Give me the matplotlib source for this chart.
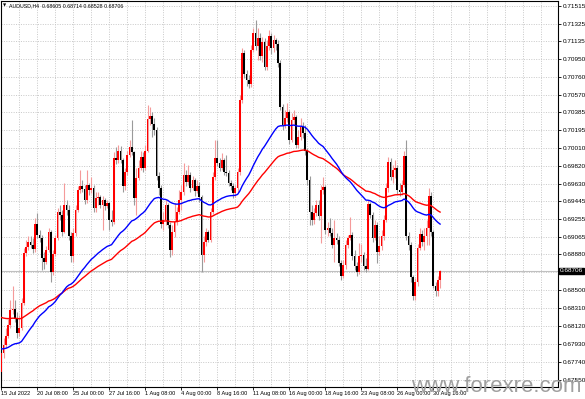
import numpy as np
import pandas as pd
import matplotlib
matplotlib.use('Agg')
import matplotlib.pyplot as plt

# AUDUSD H4, 15 Jul 2022 16:00 ... 31 Aug 2022 04:00
opens = [
    0.6763, 0.6784, 0.6792, 0.6802, 0.6813, 0.6829, 0.6830, 0.6820, 0.6805, 0.6810,
    0.6837, 0.6889, 0.6896, 0.6901, 0.6898, 0.6894, 0.6920, 0.6908, 0.6905, 0.6884,
    0.6880, 0.6893, 0.6912, 0.6869, 0.6888, 0.6905, 0.6933, 0.6930, 0.6912, 0.6940,
    0.6935, 0.6907, 0.6886, 0.6911, 0.6935, 0.6956, 0.6960, 0.6957, 0.6946, 0.6961,
    0.6956, 0.6958, 0.6937, 0.6948, 0.6949, 0.6940, 0.6946, 0.6939, 0.6942, 0.6924,
    0.6922, 0.6990, 0.6988, 0.6998, 0.6988, 0.6960, 0.6975, 0.6993, 0.7002, 0.6996,
    0.6948, 0.6969, 0.6980, 0.6991, 0.6979, 0.6998, 0.7031, 0.7035, 0.7026, 0.7020,
    0.6971, 0.6958, 0.6920, 0.6924, 0.6940, 0.6919, 0.6893, 0.6912, 0.6922, 0.6933,
    0.6946, 0.6954, 0.6972, 0.6965, 0.6972, 0.6958, 0.6967, 0.6955, 0.6960, 0.6949,
    0.6887, 0.6901, 0.6912, 0.6903, 0.6933, 0.6970, 0.6990, 0.6985, 0.6979, 0.6988,
    0.6975, 0.6974, 0.6964, 0.6960, 0.6953, 0.6958, 0.6975, 0.7051, 0.7101, 0.7079,
    0.7073, 0.7068, 0.7104, 0.7122, 0.7109, 0.7117, 0.7098, 0.7113, 0.7087, 0.7109,
    0.7119, 0.7107, 0.7115, 0.7111, 0.7091, 0.7044, 0.7025, 0.7032, 0.7039, 0.7009,
    0.7030, 0.7034, 0.7004, 0.7012, 0.7023, 0.7017, 0.6998, 0.6967, 0.6933, 0.6924,
    0.6932, 0.6940, 0.6929, 0.6956, 0.6959, 0.6914, 0.6916, 0.6911, 0.6898, 0.6905,
    0.6903, 0.6879, 0.6865, 0.6877, 0.6898, 0.6905, 0.6908, 0.6886, 0.6876, 0.6869,
    0.6886, 0.6887, 0.6876, 0.6873, 0.6941, 0.6930, 0.6905, 0.6919, 0.6890, 0.6897,
    0.6907, 0.6924, 0.6958, 0.6986, 0.6970, 0.6977, 0.6979, 0.6956, 0.6954, 0.6961,
    0.6992, 0.6907, 0.6898, 0.6864, 0.6844, 0.6859, 0.6895, 0.6910, 0.6901, 0.6907,
    0.6916, 0.6950, 0.6912, 0.6855, 0.6849, 0.68605,
]
highs = [
    0.6792, 0.6799, 0.6810, 0.6820, 0.6840, 0.6854, 0.6840, 0.6827, 0.6824, 0.6842,
    0.6895, 0.6903, 0.6907, 0.6907, 0.6905, 0.6926, 0.6932, 0.6914, 0.6908, 0.6890,
    0.6897, 0.6916, 0.6914, 0.6893, 0.6908, 0.6937, 0.6940, 0.6935, 0.6964, 0.6946,
    0.6940, 0.6912, 0.6916, 0.6940, 0.6960, 0.6977, 0.6967, 0.6961, 0.6977, 0.6964,
    0.6970, 0.6961, 0.6954, 0.6954, 0.6951, 0.6950, 0.6948, 0.6946, 0.6943, 0.6935,
    0.6996, 0.7002, 0.7004, 0.7003, 0.6990, 0.6979, 0.6998, 0.7009, 0.7030, 0.6998,
    0.6979, 0.6988, 0.6998, 0.6996, 0.7004, 0.7046, 0.7044, 0.7039, 0.7032, 0.7023,
    0.6975, 0.6961, 0.6933, 0.6946, 0.6942, 0.6922, 0.6919, 0.6942, 0.6938, 0.6956,
    0.6961, 0.6985, 0.6977, 0.6983, 0.6975, 0.6971, 0.6969, 0.6967, 0.6965, 0.6951,
    0.6907, 0.6916, 0.6914, 0.6937, 0.6975, 0.7009, 0.7009, 0.6990, 0.6995, 0.6990,
    0.6993, 0.6977, 0.6967, 0.6964, 0.6962, 0.6979, 0.7057, 0.7107, 0.7104, 0.7083,
    0.7078, 0.7110, 0.7128, 0.7136, 0.7128, 0.7122, 0.7118, 0.7117, 0.7115, 0.7126,
    0.7122, 0.7120, 0.7117, 0.7115, 0.7094, 0.7047, 0.7041, 0.7048, 0.7041, 0.7038,
    0.7041, 0.7036, 0.7020, 0.7032, 0.7028, 0.7025, 0.7001, 0.6971, 0.6940, 0.6937,
    0.6946, 0.6946, 0.6961, 0.6970, 0.6961, 0.6922, 0.6926, 0.6916, 0.6924, 0.6911,
    0.6907, 0.6882, 0.6882, 0.6903, 0.6908, 0.6928, 0.6912, 0.6893, 0.6880, 0.6900,
    0.6899, 0.6890, 0.6884, 0.6946, 0.6943, 0.6933, 0.6924, 0.6922, 0.6907, 0.6914,
    0.6930, 0.6964, 0.6991, 0.6990, 0.6983, 0.6988, 0.6983, 0.6964, 0.6967, 0.6998,
    0.7009, 0.6912, 0.6901, 0.6866, 0.6863, 0.6899, 0.6916, 0.6914, 0.6916, 0.6924,
    0.6958, 0.6954, 0.6914, 0.6859, 0.6865, 0.68714,
]
lows = [
    0.6752, 0.6778, 0.6789, 0.6799, 0.6810, 0.6825, 0.6816, 0.6799, 0.6801, 0.6808,
    0.6834, 0.6886, 0.6893, 0.6895, 0.6889, 0.6891, 0.6905, 0.6901, 0.6871, 0.6873,
    0.6878, 0.6890, 0.6859, 0.6866, 0.6886, 0.6903, 0.6924, 0.6907, 0.6911, 0.6930,
    0.6903, 0.6880, 0.6880, 0.6907, 0.6933, 0.6953, 0.6954, 0.6941, 0.6942, 0.6951,
    0.6953, 0.6933, 0.6933, 0.6940, 0.6937, 0.6914, 0.6935, 0.6937, 0.6914, 0.6918,
    0.6920, 0.6984, 0.6985, 0.6985, 0.6954, 0.6956, 0.6972, 0.6991, 0.6993, 0.6940,
    0.6930, 0.6967, 0.6977, 0.6975, 0.6977, 0.6996, 0.7025, 0.7012, 0.7014, 0.6967,
    0.6951, 0.6916, 0.6914, 0.6919, 0.6916, 0.6885, 0.6887, 0.6906, 0.6919, 0.6931,
    0.6935, 0.6951, 0.6960, 0.6961, 0.6954, 0.6956, 0.6950, 0.6953, 0.6944, 0.6869,
    0.6880, 0.6897, 0.6901, 0.6901, 0.6931, 0.6967, 0.6982, 0.6976, 0.6977, 0.6972,
    0.6971, 0.6960, 0.6956, 0.6948, 0.6949, 0.6954, 0.6972, 0.7048, 0.7075, 0.7066,
    0.7064, 0.7065, 0.7102, 0.7104, 0.7094, 0.7094, 0.7092, 0.7083, 0.7083, 0.7104,
    0.7100, 0.7102, 0.7104, 0.7087, 0.7041, 0.7020, 0.7022, 0.7028, 0.7005, 0.7007,
    0.7025, 0.7001, 0.7001, 0.7009, 0.7011, 0.6993, 0.6962, 0.6919, 0.6919, 0.6920,
    0.6929, 0.6924, 0.6900, 0.6952, 0.6910, 0.6907, 0.6907, 0.6895, 0.6880, 0.6899,
    0.6876, 0.6861, 0.6863, 0.6873, 0.6895, 0.6903, 0.6882, 0.6871, 0.6865, 0.6867,
    0.6880, 0.6871, 0.6869, 0.6871, 0.6926, 0.6901, 0.6903, 0.6879, 0.6887, 0.6893,
    0.6903, 0.6922, 0.6954, 0.6967, 0.6964, 0.6969, 0.6952, 0.6950, 0.6951, 0.6959,
    0.6903, 0.6893, 0.6859, 0.6840, 0.6840, 0.6855, 0.6893, 0.6897, 0.6893, 0.6898,
    0.6898, 0.6907, 0.6852, 0.6844, 0.6844, 0.68528,
]
closes = [
    0.6784, 0.6792, 0.6802, 0.6813, 0.6829, 0.6830, 0.6820, 0.6805, 0.6810, 0.6837,
    0.6889, 0.6896, 0.6901, 0.6898, 0.6894, 0.6920, 0.6908, 0.6905, 0.6884, 0.6880,
    0.6893, 0.6912, 0.6869, 0.6888, 0.6905, 0.6933, 0.6930, 0.6912, 0.6940, 0.6935,
    0.6907, 0.6886, 0.6911, 0.6935, 0.6956, 0.6960, 0.6957, 0.6946, 0.6961, 0.6956,
    0.6958, 0.6937, 0.6948, 0.6949, 0.6940, 0.6946, 0.6939, 0.6942, 0.6924, 0.6922,
    0.6990, 0.6988, 0.6998, 0.6988, 0.6960, 0.6975, 0.6993, 0.7002, 0.6996, 0.6948,
    0.6969, 0.6980, 0.6991, 0.6979, 0.6998, 0.7031, 0.7035, 0.7026, 0.7020, 0.6971,
    0.6958, 0.6920, 0.6924, 0.6940, 0.6919, 0.6893, 0.6912, 0.6922, 0.6933, 0.6946,
    0.6954, 0.6972, 0.6965, 0.6972, 0.6958, 0.6967, 0.6955, 0.6960, 0.6949, 0.6887,
    0.6901, 0.6912, 0.6903, 0.6933, 0.6970, 0.6990, 0.6985, 0.6979, 0.6988, 0.6975,
    0.6974, 0.6964, 0.6960, 0.6953, 0.6958, 0.6975, 0.7051, 0.7101, 0.7079, 0.7073,
    0.7068, 0.7104, 0.7122, 0.7109, 0.7117, 0.7098, 0.7113, 0.7087, 0.7109, 0.7119,
    0.7107, 0.7115, 0.7111, 0.7091, 0.7044, 0.7025, 0.7032, 0.7039, 0.7009, 0.7030,
    0.7034, 0.7004, 0.7012, 0.7023, 0.7017, 0.6998, 0.6967, 0.6933, 0.6924, 0.6932,
    0.6940, 0.6929, 0.6956, 0.6959, 0.6914, 0.6916, 0.6911, 0.6898, 0.6905, 0.6903,
    0.6879, 0.6865, 0.6877, 0.6898, 0.6905, 0.6908, 0.6886, 0.6876, 0.6869, 0.6886,
    0.6887, 0.6876, 0.6873, 0.6941, 0.6930, 0.6905, 0.6919, 0.6890, 0.6897, 0.6907,
    0.6924, 0.6958, 0.6986, 0.6970, 0.6977, 0.6979, 0.6956, 0.6954, 0.6961, 0.6992,
    0.6907, 0.6898, 0.6864, 0.6844, 0.6859, 0.6895, 0.6910, 0.6901, 0.6907, 0.6916,
    0.6950, 0.6912, 0.6855, 0.6849, 0.6861, 0.68706,
]

# moving averages: value at the left edge and smoothing factor
blue_start, blue_alpha = 0.6788, 0.036
red_start, red_alpha = 0.6822, 0.022

x_tick_bars = [0, 16, 32, 48, 64, 80, 96, 112, 128, 144, 160, 176, 192]
x_tick_labels = ['15 Jul 2022', '20 Jul 08:00', '25 Jul 00:00', '27 Jul 16:00', '1 Aug 08:00',
                 '4 Aug 00:00', '8 Aug 16:00', '11 Aug 08:00', '16 Aug 00:00', '18 Aug 16:00',
                 '23 Aug 08:00', '26 Aug 00:00', '30 Aug 16:00']
price_ticks = [0.71515, 0.71325, 0.71135, 0.70950, 0.70760, 0.70570, 0.70385, 0.70195,
               0.70010, 0.69820, 0.69630, 0.69445, 0.69255, 0.69065, 0.68880, 0.68690,
               0.68500, 0.68310, 0.68120, 0.67930, 0.67740, 0.67550]
last_price = 0.68706

plt.rcParams['font.family'] = ['Liberation Sans', 'DejaVu Sans']

df = pd.DataFrame({'open': opens, 'high': highs, 'low': lows, 'close': closes})
n = len(df)
x = np.arange(n)
up = df['close'] >= df['open']

blue_ma = pd.Series([blue_start] + closes).ewm(alpha=blue_alpha, adjust=False).mean().iloc[1:].values
red_ma = pd.Series([red_start] + closes).ewm(alpha=red_alpha, adjust=False).mean().iloc[1:].values

W, H = 585, 399
fig = plt.figure(figsize=(W / 100, H / 100), dpi=100)
left, right, top, bottom = 1, 558, 1, 387
ax = fig.add_axes([left / W, (H - bottom) / H, (right - left) / W, (bottom - top) / H])

# grid
for p in price_ticks:
    ax.axhline(p, color='#c8c8c8', lw=0.7, ls=(0, (1, 1.5)), zorder=0)
for b in range(8, 248, 8):
    ax.axvline(b, color='#c8c8c8', lw=0.7, ls=(0, (1, 1.5)), zorder=0)

# bid line
ax.axhline(last_price, color='#c0c0c0', lw=0.8, zorder=1)

# candles
wick_col = np.where(up, '#f59a9a', '#9a9a9a')
ax.vlines(x, df['low'], df['high'], colors=wick_col, lw=0.8, zorder=2)
body_bottom = np.minimum(df['open'], df['close'])
body_h = np.maximum((df['close'] - df['open']).abs(), 0.00004)
ax.bar(x, body_h, bottom=body_bottom, width=0.75, color=np.where(up, '#ff0000', '#000000'),
       linewidth=0, zorder=3)

ax.plot(x, red_ma, color='#ff0000', lw=1.0, zorder=4)
ax.plot(x, blue_ma, color='#0000ff', lw=1.0, zorder=4)

ax.set_xlim(-0.13, 247.4)
ax.set_ylim(0.67475, 0.71564)

ax.yaxis.tick_right()
ax.set_yticks(price_ticks)
ax.set_yticklabels(['' if p == 0.68690 else f'{p:.5f}' for p in price_ticks])
ax.set_xticks(x_tick_bars)
ax.set_xticklabels(x_tick_labels)
for lab in ax.get_xticklabels():
    lab.set_horizontalalignment('left')
ax.tick_params(axis='y', labelsize=4.6, length=2, width=0.6, pad=1.2, colors='#000000')
ax.tick_params(axis='x', labelsize=4.1, length=2, width=0.6, pad=1.2, colors='#000000')
for s in ax.spines.values():
    s.set_linewidth(0.8)
    s.set_color('#000000')

# current price box
ax.text(1.0035, last_price, f'{last_price:.5f}', transform=ax.get_yaxis_transform(),
        ha='left', va='center', fontsize=4.6, color='white',
        bbox=dict(boxstyle='square,pad=0.12', fc='black', ec='black'))

# header
fig.text(3 / W, 1 - 5.5 / H, '\u25bc', fontsize=3, family=['DejaVu Sans'], va='center', ha='left')
fig.text(9 / W, 1 - 5.5 / H, 'AUDUSD,H4  0.68605 0.68714 0.68528 0.68706', fontsize=3.8,
         va='center', ha='left', color='#000000')

# watermark
fig.text(582 / W, 1 - 392 / H, 'www.forexre.com', fontsize=16, color='#a0a0a0',
         family=['Liberation Sans', 'DejaVu Sans'], ha='right', va='baseline', zorder=10)

fig.savefig('out.png', dpi=100, facecolor='white')
